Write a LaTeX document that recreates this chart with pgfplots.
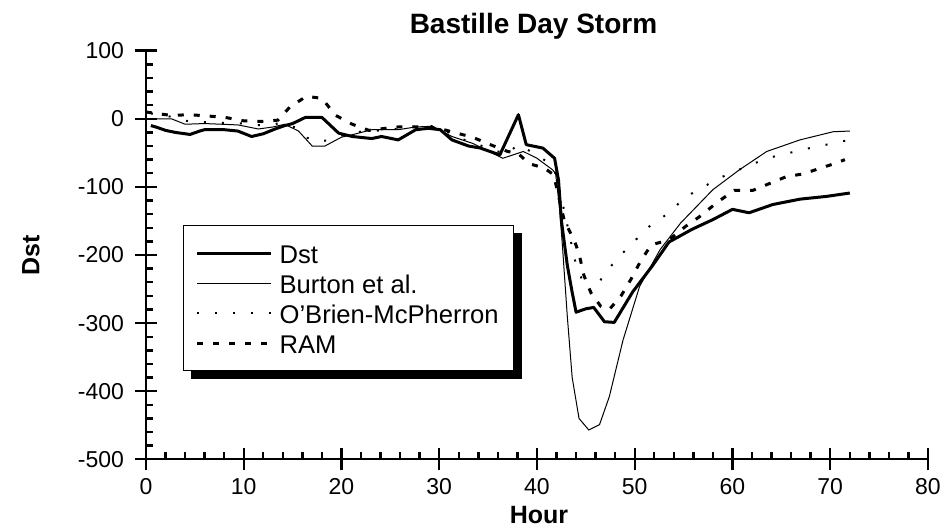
\documentclass[border=0pt]{standalone}
\usepackage{pgfplots}
\pgfplotsset{compat=1.18}
\usepackage{fontspec}
\setmainfont{Liberation Sans}
\pgfdeclarelayer{background}
\pgfsetlayers{background,main}

\begin{document}
\begin{tikzpicture}
\useasboundingbox (-73pt,-34.35pt) rectangle (398pt,229.65pt);
\begin{axis}[
  at={(0,0)}, anchor=south west,
  scale only axis, width=391pt, height=204.3pt,
  xmin=0, xmax=80, ymin=-500, ymax=100,
  axis x line=bottom, axis y line=left,
  axis line style={-, line width=1.2pt},
  clip=false,
  xtick={0,10,...,80}, ytick={-500,-400,...,100},
  minor x tick num=4, minor y tick num=4,
  tick align=inside,
  major tick length=5.5pt, minor tick length=3.5pt,
  tick style={line width=1.2pt, black},
  extra x ticks={0,10,20,30,40,50,60,70,80}, extra x tick labels={},
  extra x tick style={tick align=outside, major tick length=5.5pt},
  extra y ticks={-500,-400,-300,-200,-100,0,100}, extra y tick labels={},
  extra y tick style={tick align=outside, major tick length=5.5pt},
  /pgf/number format/assume math mode=true,
  ticklabel style={font=\fontsize{11.5}{13}\selectfont},
  xticklabel style={yshift=-6pt},
  yticklabel style={xshift=-7.5pt},
  title={Bastille Day Storm},
  title style={at={(0.4955,1)}, anchor=base, yshift=2.6pt, font=\fontsize{14}{16}\selectfont\bfseries},
  xlabel={Hour},
  xlabel style={at={(0.5026,0)}, anchor=center, yshift=-27.9pt, font=\fontsize{12.5}{14}\selectfont\bfseries},
  ylabel={Dst},
  ylabel style={at={(0,0.5)}, anchor=center, yshift=57.5pt, font=\fontsize{12.5}{14}\selectfont\bfseries},
  legend image code/.code={\draw[#1] (0pt,0pt) -- (37pt,0pt);},
  legend cell align=left,
  legend style={at={(0.0473,0.5734)}, anchor=north west, draw=black, line width=0.6pt, fill=white,
    name=mylegend,
    inner xsep=6pt, inner ysep=6.25pt, row sep=0pt, column sep=2pt,
    font=\fontsize{12.8}{14}\selectfont,
    nodes={inner sep=1.5pt, text height=11pt, text depth=1pt}},
]
% Dst
\addplot[black, line width=1.5pt, line join=round] coordinates {
(0.5,-10) (1,-12) (2,-17) (3,-20) (4.5,-23) (5.5,-18) (6,-16) (8,-16) (9.4,-18)
(10.8,-26) (12,-22) (13.2,-15) (14.2,-10) (15,-7) (16.3,2) (18,2) (19.7,-21)
(21.1,-26) (23.1,-29) (24.1,-26) (25.8,-31) (27.6,-16) (28.9,-14) (30.1,-16)
(31.3,-31) (33,-40) (34.2,-43) (36.2,-53) (38.1,6) (38.9,-38) (40.6,-43) (41.8,-58)
(42.2,-90) (42.5,-150) (43.1,-215) (43.6,-255) (44,-284) (45,-279) (45.8,-277)
(46.9,-298) (47.9,-299) (49.8,-254) (51.8,-216) (53.5,-181) (55.9,-162) (58,-148)
(60,-133) (61.7,-138) (64.1,-126) (66.9,-118) (69.6,-114) (72,-109)
};
\addlegendentry{Dst}
% Burton et al.
\addplot[black, line width=0.5pt] coordinates {
(0.5,0) (2.6,0) (4,-8) (6,-7) (9.4,-9) (11.5,-15) (13,-12) (14.2,-8) (15.6,-18)
(17,-40) (18.3,-40) (20,-27) (21.5,-22) (23.1,-16) (25.8,-16) (27.6,-12) (29.3,-11)
(31.3,-26) (33.4,-36) (36.5,-58) (38.6,-48) (40,-58) (41.6,-75) (41.9,-80)
(42.3,-130) (42.6,-186) (43.1,-290) (43.6,-380) (44.3,-440) (45.3,-457) (46.4,-449)
(47.4,-408) (48.8,-325) (50.5,-246) (52.6,-192) (54.7,-153) (58,-104) (60.7,-75)
(63.5,-48) (66.9,-31) (70.3,-19) (72,-18)
};
\addlegendentry{Burton et al.}
% O'Brien-McPherron
\addplot[black, line width=1pt, dash pattern=on 1pt off 8pt] coordinates {
(0.5,8) (2,5) (4,-3) (6,-5) (8,-6) (10,-7) (12,-10) (14,-6) (15.5,-14) (16.5,-28)
(17.5,-33) (18.5,-32) (19.5,-27) (21,-20) (23,-18) (25,-16) (27,-12) (29,-10)
(30,-13) (32,-28) (34,-38) (36,-48) (37,-52) (38,-38) (39,-45) (40.5,-58) (41.7,-70)
(42.6,-123) (44,-215) (45,-250) (45.8,-255) (46.7,-232) (48.1,-207) (49.8,-182)
(51.5,-158) (53.4,-139) (55.2,-115) (57,-100) (59,-85) (62.1,-66) (64.1,-56)
(67.6,-44) (69.6,-38) (72,-31)
};
\addlegendentry{O'Brien-McPherron}
% RAM
\addplot[black, line width=1.5pt, dash pattern=on 3pt off 5pt] coordinates {
(0,10) (0.9,8) (2.6,5) (4.5,6) (6.4,4) (8.1,2) (10,-3) (11.8,-4) (13.5,-2) (14.7,17)
(16.4,33) (18,30) (19.4,5) (21.1,-8) (22.8,-17) (24.5,-14) (25.8,-12) (28,-12)
(30,-14) (31.5,-20) (33.4,-27) (35.4,-39) (37,-48) (38,-50) (39.2,-66) (40.7,-72)
(41.7,-82) (42.8,-150) (43.8,-178) (44.3,-198) (44.8,-230) (45.5,-255) (46.5,-275)
(47.4,-280) (48.6,-260) (49.6,-236) (50.6,-209) (51.7,-185) (53.5,-178) (55.2,-158)
(56.6,-144) (58.5,-122) (60.2,-105) (62.1,-105) (63.8,-95) (65.5,-85) (67.2,-81)
(69.1,-72) (70.8,-64) (71.5,-60)
};
\addlegendentry{RAM}
\end{axis}
\begin{pgfonlayer}{background}
\fill[black] ([shift={(4pt,-4pt)}]mylegend.south west) rectangle ([shift={(4pt,-4pt)}]mylegend.north east);
\end{pgfonlayer}
\end{tikzpicture}
\end{document}
